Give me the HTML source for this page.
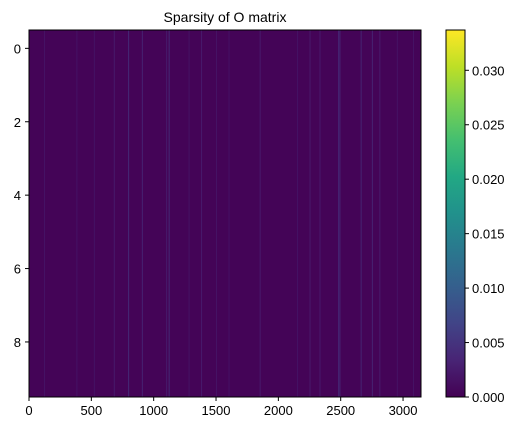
<!DOCTYPE html>
<html><head><meta charset="utf-8"><style>
body{margin:0;background:#fff;}
svg text{font-family:"Liberation Sans","DejaVu Sans",sans-serif;font-size:13px;fill:#000;}
</style></head><body>
<svg id="chart" width="528" height="433" viewBox="0 0 528 433">
<defs>
<linearGradient id="vir" x1="0" y1="1" x2="0" y2="0">
<stop offset="0" stop-color="#440154"/><stop offset="0.1" stop-color="#482475"/><stop offset="0.2" stop-color="#414487"/><stop offset="0.3" stop-color="#355f8d"/><stop offset="0.4" stop-color="#2a788e"/><stop offset="0.5" stop-color="#21918c"/><stop offset="0.6" stop-color="#22a884"/><stop offset="0.7" stop-color="#44bf70"/><stop offset="0.8" stop-color="#7ad151"/><stop offset="0.9" stop-color="#bddf26"/><stop offset="1" stop-color="#fde725"/>
</linearGradient>
</defs>
<text x="225" y="22" text-anchor="middle" style="font-size:14px">Sparsity of O matrix</text>
<g id="plot"></g>
<g id="cbar"></g>
</svg>
<script>
const nCols = 3144;
const nRows = 10;
const vmax = 0.0337;
const xTicks = [0,500,1000,1500,2000,2500,3000];
const yTicks = [0,2,4,6,8];
const cTicks = [0,0.005,0.010,0.015,0.020,0.025,0.030];
const cTickLabels = ["0.000","0.005","0.010","0.015","0.020","0.025","0.030"];
const streakCols = [120,380,520,680,795,905,1100,1120,1280,1380,1500,1600,1850,2150,2250,2330,2480,2490,2660,2750,2810,2950,3080];
const streakVals = [0.002,0.002,0.002,0.003,0.005,0.004,0.003,0.005,0.002,0.003,0.002,0.002,0.003,0.002,0.003,0.003,0.005,0.004,0.004,0.004,0.003,0.002,0.002];

const X0=29,X1=421,Y0=30,Y1=397;
const xs=v=>X0+(v+0.5)/nCols*(X1-X0);
const ys=v=>Y0+(v+0.5)/nRows*(Y1-Y0);
const cs=v=>Y1-v/vmax*(Y1-Y0);
const stops=[[0,[68,1,84]],[0.1,[72,36,117]],[0.2,[65,68,135]],[0.3,[53,95,141]],[0.4,[42,120,142]],[0.5,[33,145,140]],[0.6,[34,168,132]],[0.7,[68,191,112]],[0.8,[122,209,81]],[0.9,[189,223,38]],[1,[253,231,37]]];
function vir(v){let t=Math.max(0,Math.min(1,v/vmax));for(let i=1;i<stops.length;i++){if(t<=stops[i][0]){const a=stops[i-1],b=stops[i];const f=(t-a[0])/(b[0]-a[0]);return 'rgb('+a[1].map((c,k)=>Math.round(c+(b[1][k]-c)*f)).join(',')+')';}}return 'rgb(253,231,37)';}
const NS='http://www.w3.org/2000/svg';
function mk(tag,attrs,parent,txt){const e=document.createElementNS(NS,tag);for(const k in attrs)e.setAttribute(k,attrs[k]);if(txt!==undefined)e.textContent=txt;parent.appendChild(e);return e;}
const plot=document.getElementById('plot');
const bg=mk('rect',{x:X0,y:Y0,width:X1-X0,height:Y1-Y0,fill:vir(0.0003)},plot);


streakCols.forEach((c,i)=>{
  const r=mk('rect',{x:xs(c-0.5),y:Y0,width:Math.max(1,xs(c+0.5)-xs(c-0.5)),height:Y1-Y0,fill:vir(streakVals[i]),opacity:0.8},plot);
  
  
});
const fr=mk('rect',{x:X0,y:Y0,width:X1-X0,height:Y1-Y0,fill:'none',stroke:'#000','stroke-width':1},plot);


xTicks.forEach(t=>{
  const x=xs(t-0.5+0.5)-(0.5/nCols*(X1-X0));
  mk('line',{x1:x,x2:x,y1:Y1,y2:Y1+4,stroke:'#000'},plot);
  const l=mk('text',{x:x,y:Y1+18,'text-anchor':'middle'},plot,String(t));
  
  
});
yTicks.forEach(t=>{
  const y=ys(t);
  mk('line',{x1:X0-4,x2:X0,y1:y,y2:y,stroke:'#000'},plot);
  const l=mk('text',{x:X0-8,y:y+5,'text-anchor':'end'},plot,String(t));
  
  
});
const cb=document.getElementById('cbar');
const CX=446,CW=19;
const cr=mk('rect',{x:CX,y:Y0,width:CW,height:Y1-Y0,fill:'url(#vir)',stroke:'#000','stroke-width':1},cb);


cTicks.forEach((t,i)=>{
  const y=cs(t);
  mk('line',{x1:CX+CW,x2:CX+CW+4,y1:y,y2:y,stroke:'#000'},cb);
  const l=mk('text',{x:CX+CW+7,y:y+5},cb,cTickLabels[i]);
  
  
});
</script>
</body></html>
